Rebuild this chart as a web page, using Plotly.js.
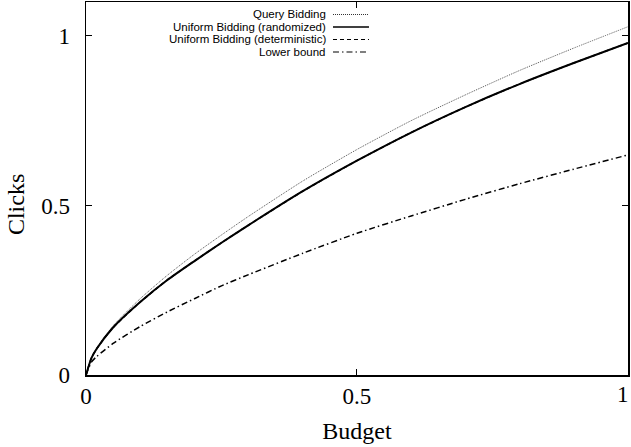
<!DOCTYPE html>
<html>
<head>
<meta charset="utf-8">
<script src="https://cdn.plot.ly/plotly-3.0.1.min.js"></script>
<style>html,body{margin:0;padding:0;background:#fff;}#chart{width:631px;height:447px;}</style>
</head>
<body>
<div id="chart"></div>
<script>
const budget = [0, 0.01, 0.02, 0.05, 0.1, 0.15, 0.2, 0.25, 0.3, 0.4, 0.5, 0.6, 0.7, 0.8, 0.9, 1.0];
const queryBidding = [0, 0.05, 0.08, 0.145, 0.225, 0.294, 0.356, 0.413, 0.468, 0.572, 0.665, 0.75, 0.826, 0.898, 0.964, 1.027];
const uniformRandomized = [0, 0.05, 0.078, 0.14, 0.215, 0.28, 0.336, 0.39, 0.442, 0.542, 0.632, 0.715, 0.79, 0.858, 0.92, 0.979];
const uniformDeterministic = [0, 0.05, 0.078, 0.14, 0.215, 0.28, 0.336, 0.39, 0.442, 0.542, 0.632, 0.715, 0.79, 0.858, 0.92, 0.979];
const lowerBound = [0, 0.038, 0.055, 0.093, 0.143, 0.186, 0.225, 0.263, 0.296, 0.359, 0.418, 0.469, 0.518, 0.564, 0.607, 0.649];
const seriesNames = ["Query Bidding", "Uniform Bidding (randomized)", "Uniform Bidding (deterministic)", "Lower bound"];
const xTickVals = [0, 0.5, 1];
const xTickText = ["0", "0.5", "1"];
const yTickVals = [0, 0.5, 1];
const yTickText = ["0", "0.5", "1"];
const xTitle = "Budget";
const yTitle = "Clicks";

const styles = [
  {color: "#555", width: 1, dash: "1px,1px"},
  {color: "#000", width: 2, dash: "solid"},
  {color: "#000", width: 1.5, dash: "4px,3px"},
  {color: "#000", width: 1.5, dash: "6px,3px,1.5px,3px"}
];
const ys = [queryBidding, uniformRandomized, uniformDeterministic, lowerBound];

const traces = ys.map((y, i) => ({
  x: budget, y: y, type: "scatter", mode: "lines", name: seriesNames[i],
  line: {color: styles[i].color, width: styles[i].width, dash: styles[i].dash, shape: "spline", smoothing: 0.6},
  showlegend: false, hoverinfo: "none"
}));

const serif = "Liberation Serif, Times New Roman, serif";

// custom legend (text right-aligned, line sample on the right, like gnuplot)
const legY = [0.9665, 0.933, 0.8995, 0.866];
const annotations = seriesNames.map((n, i) => ({
  xref: "paper", yref: "paper", x: 0.4446, y: legY[i], xanchor: "right", yanchor: "middle",
  text: n, showarrow: false, borderpad: 0,
  font: {family: "Liberation Sans, Arial, sans-serif", size: 11.5, color: "#000"}
}));
annotations.push({
  xref: "paper", yref: "paper", x: -0.129, y: 0.4558, xanchor: "center", yanchor: "middle",
  text: yTitle, textangle: -90, showarrow: false, font: {family: serif, size: 24, color: "#000"}
});
// last x tick label, placed inside the page edge like the original (gnuplot shifts it left)
const lastXIdx = xTickVals.length - 1;
annotations.push({
  xref: "x", yref: "paper", x: xTickVals[lastXIdx], y: -0.0536, xanchor: "right", yanchor: "middle", xshift: 2,
  text: xTickText[lastXIdx], showarrow: false, borderpad: 0, font: {family: serif, size: 23, color: "#000"}
});
const xTickTextShown = xTickText.map((t, i) => i === lastXIdx ? "" : t);

const shapes = seriesNames.map((n, i) => ({
  type: "line", xref: "paper", yref: "paper", x0: 0.4557, x1: 0.5221, y0: legY[i], y1: legY[i],
  line: {color: i === 0 ? "#333" : styles[i].color, width: i === 1 ? 1.5 : 1.2, dash: styles[i].dash}
}));

const axisCommon = {
  showgrid: false, zeroline: false, showline: true, linecolor: "#000", linewidth: 1.5,
  mirror: "allticks", ticks: "inside", ticklen: 6, tickwidth: 1, tickcolor: "#000",
  tickfont: {family: serif, size: 23, color: "#000"},
  automargin: false, ticklabeloverflow: "allow"
};

const layout = {
  width: 631, height: 447,
  margin: {l: 86, r: 3, t: 2, b: 72},
  paper_bgcolor: "#fff", plot_bgcolor: "#fff",
  xaxis: Object.assign({}, axisCommon, {
    range: [0, 1.0002], tickvals: xTickVals, ticktext: xTickTextShown, ticklabelstandoff: 0,
    title: {text: xTitle, font: {family: serif, size: 24, color: "#000"}, standoff: 14}
  }),
  yaxis: Object.assign({}, axisCommon, {
    range: [0, 1.1], tickvals: yTickVals, ticktext: yTickText, ticklabelstandoff: 10
  }),
  annotations: annotations,
  shapes: shapes,
  showlegend: false
};

Plotly.newPlot("chart", traces, layout, {displayModeBar: false, staticPlot: true});
</script>
</body>
</html>
